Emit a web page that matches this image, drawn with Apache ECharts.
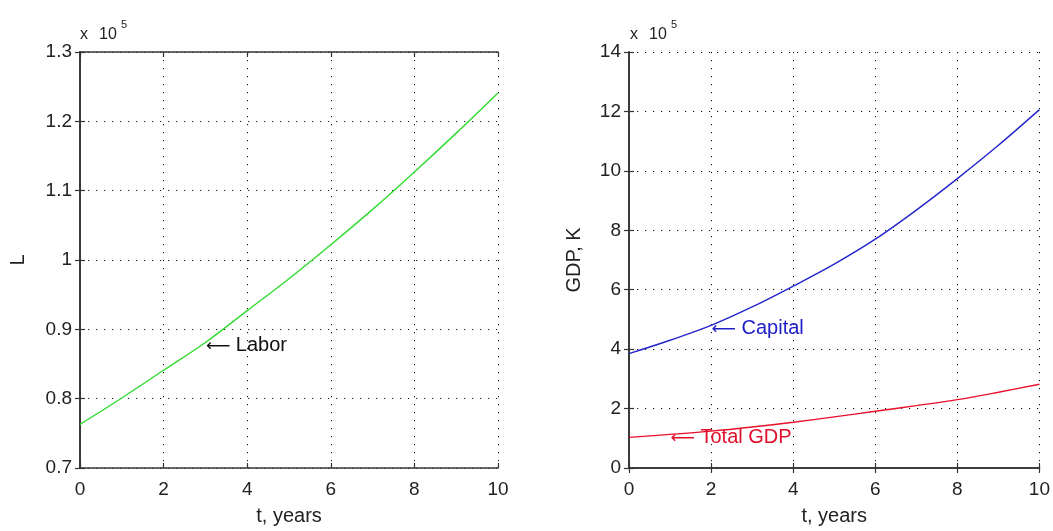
<!DOCTYPE html>
<html>
<head>
<meta charset="utf-8">
<script src="https://cdn.jsdelivr.net/npm/echarts@6/dist/echarts.min.js"></script>
<style>
  html, body { margin: 0; padding: 0; background: #fff; }
  #chart { width: 1053px; height: 531px; }
</style>
</head>
<body>
<div id="chart"></div>
<script>
// Time axis (years) and model outputs, values in units of 10^5
const years = [0, 1, 2, 3, 4, 5, 6, 7, 8, 9, 10];
const labor = [0.763, 0.801, 0.841, 0.881, 0.927, 0.973, 1.022, 1.073, 1.127, 1.183, 1.241];
const capital = [3.85, 4.30, 4.80, 5.42, 6.12, 6.86, 7.70, 8.68, 9.74, 10.86, 12.06];
const totalGdp = [1.03, 1.13, 1.24, 1.38, 1.54, 1.72, 1.91, 2.10, 2.30, 2.55, 2.82];

// Axis ranges
const xRange = { min: 0, max: 10, interval: 2 };
const laborRange = { min: 0.7, max: 1.3, interval: 0.1 };
const gdpRange = { min: 0, max: 14, interval: 2 };

// Text annotations pinned to a curve point
const notes = [
  { panel: 0, data: labor, i: 3, text: 'Labor', color: '#111111' },
  { panel: 1, data: capital, i: 2, text: 'Capital', color: '#2020c8' },
  { panel: 1, data: totalGdp, i: 1, text: 'Total GDP', color: '#e0102a' }
];

const FONT = "'Liberation Sans', Arial, 'DejaVu Sans', sans-serif";
const ink = '#222';
const pair = arr => years.map((t, i) => [t, arr[i]]);

const grid = [
  { left: 80, right: 555, top: 52, bottom: 61 },
  { left: 629, right: 8, top: 52, bottom: 61 }
];

const dotted = { show: true, lineStyle: { color: '#111', width: 1, type: [1.2, 6.8] } };
const frameLine = { show: true, lineStyle: { color: '#333', width: 1.6 } };
const innerTick = { show: true, inside: true, length: 5, lineStyle: { color: '#333', width: 1.2 } };
const tickText = { color: ink, fontSize: 19, fontFamily: FONT };

function xAxes(g) {
  return [
    {
      type: 'value', gridIndex: g, ...xRange,
      name: 't, years', nameLocation: 'middle', nameGap: 38,
      nameTextStyle: { color: ink, fontSize: 20, fontFamily: FONT },
      axisLine: frameLine, axisTick: innerTick, splitLine: dotted,
      axisLabel: { ...tickText, margin: 12 }
    },
    {
      type: 'value', gridIndex: g, position: 'top', ...xRange,
      axisLine: frameLine, axisTick: innerTick, splitLine: { show: false },
      axisLabel: { show: false }
    }
  ];
}

function yAxes(g, range, name, gap) {
  return [
    {
      type: 'value', gridIndex: g, ...range,
      name: name, nameLocation: 'middle', nameGap: gap, nameRotate: 90,
      nameTextStyle: { color: ink, fontSize: 20, fontFamily: FONT },
      axisLine: frameLine, axisTick: innerTick, splitLine: dotted,
      axisLabel: { ...tickText, margin: 8 }
    },
    {
      type: 'value', gridIndex: g, position: 'right', ...range,
      axisLine: frameLine, axisTick: innerTick, splitLine: { show: false },
      axisLabel: { show: false }
    }
  ];
}

function curve(panel, data, color) {
  return {
    type: 'line', xAxisIndex: panel * 2, yAxisIndex: panel * 2,
    data: pair(data), smooth: 0.35, symbol: 'none',
    lineStyle: { color: color, width: 1.4 }, silent: true, z: 3
  };
}

function note(n) {
  return {
    type: 'scatter', xAxisIndex: n.panel * 2, yAxisIndex: n.panel * 2,
    data: [[years[n.i], n.data[n.i]]], symbolSize: 1, silent: true, z: 4,
    itemStyle: { color: 'rgba(0,0,0,0)' },
    label: {
      show: true, position: 'right', distance: 0, offset: [0, 3], opacity: 1,
      formatter: '{a|\u27F5}{b| ' + n.text + '}',
      rich: {
        a: { color: n.color, fontSize: 17, fontFamily: "'DejaVu Sans', sans-serif", padding: [2, 0, 0, 0] },
        b: { color: n.color, fontSize: 20, fontFamily: FONT }
      },
      textBorderWidth: 0
    }
  };
}

// "x 10^5" scale markers above each panel
function scaleMark(left) {
  return [
    { type: 'text', left: left, top: 27, style: { text: 'x', fill: ink, font: '16px ' + FONT } },
    { type: 'text', left: left + 19, top: 27, style: { text: '10', fill: ink, font: '16px ' + FONT } },
    { type: 'text', left: left + 41, top: 19, style: { text: '5', fill: ink, font: '11px ' + FONT } }
  ];
}

const chart = echarts.init(document.getElementById('chart'), null, { renderer: 'canvas' });
chart.setOption({
  backgroundColor: '#fff',
  animation: false,
  grid: grid,
  xAxis: [...xAxes(0), ...xAxes(1)],
  yAxis: [...yAxes(0, laborRange, 'L', 52), ...yAxes(1, gdpRange, 'GDP, K', 45)],
  series: [
    curve(0, labor, '#2fdc2f'),
    curve(1, capital, '#2424cc'),
    curve(1, totalGdp, '#e8102a'),
    ...notes.map(note)
  ],
  graphic: [...scaleMark(80), ...scaleMark(630)]
});
</script>
</body>
</html>
